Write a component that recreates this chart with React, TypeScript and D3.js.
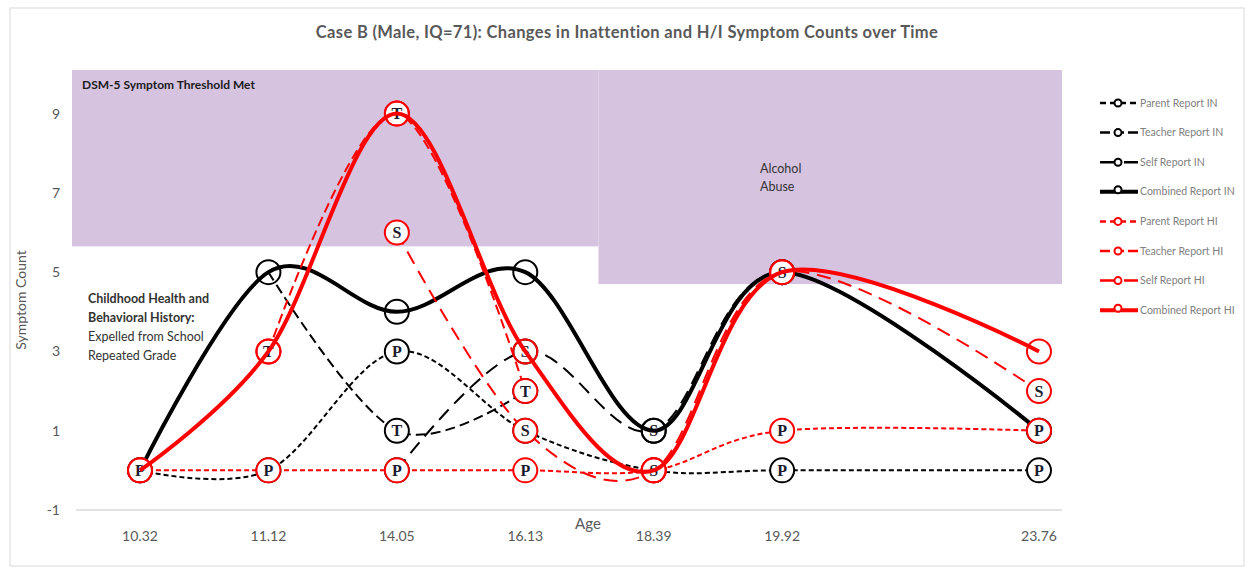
import React from "react";
import * as d3 from "d3";

const ageLabels = ["10.32", "11.12", "14.05", "16.13", "18.39", "19.92", "23.76"];
// axis slots: an empty slot sits between 19.92 and 23.76
const axisSlots = ["10.32", "11.12", "14.05", "16.13", "18.39", "19.92", "gap", "23.76"];
const yTicks = [-1, 1, 3, 5, 7, 9];

const parentIN = [0, 0, 3, 1, 0, 0, 0];
const teacherIN = [null, 5, 1, 2, null, null, null];
const selfIN = [null, null, 0, 3, 1, 5, 1];
const combinedIN = [0, 5, 4, 5, 1, 5, 1];
const parentHI = [0, 0, 0, 0, 0, 1, 1];
const teacherHI = [null, 3, 9, 2, null, null, null];
const selfHI = [null, null, 6, 1, 0, 5, 2];
const combinedHI = [0, 3, 9, 3, 0, 5, 3];

// markers not shown in the reference
const hiddenMarkers = ["Teacher Report IN|11.12"];

const childThreshold = 5.65;
const adultThreshold = 4.7;
const yMin = -1;
const yMax = 10.1;

type Series = {
  name: string;
  values: (number | null)[];
  color: string;
  dash: string;
  legendDash: string;
  width: number;
  letter: string;
};

const series: Series[] = [
  { name: "Parent Report IN", values: parentIN, color: "#000", dash: "5,3", legendDash: "6,4", width: 2, letter: "P" },
  { name: "Teacher Report IN", values: teacherIN, color: "#000", dash: "10,5", legendDash: "10,4", width: 2, letter: "T" },
  { name: "Self Report IN", values: selfIN, color: "#000", dash: "14,8", legendDash: "17,7", width: 2, letter: "S" },
  { name: "Combined Report IN", values: combinedIN, color: "#000", dash: "", legendDash: "", width: 4, letter: "" },
  { name: "Parent Report HI", values: parentHI, color: "#ff0000", dash: "5,3", legendDash: "6,4", width: 2, letter: "P" },
  { name: "Teacher Report HI", values: teacherHI, color: "#ff0000", dash: "10,5", legendDash: "10,4", width: 2, letter: "T" },
  { name: "Self Report HI", values: selfHI, color: "#ff0000", dash: "14,8", legendDash: "17,7", width: 2, letter: "S" },
  { name: "Combined Report HI", values: combinedHI, color: "#ff0000", dash: "", legendDash: "", width: 4, letter: "" },
];

const W = 1248;
const H = 569;
const FONT = "Lato, 'Open Sans', sans-serif";

export default function App() {
  const x = d3.scalePoint<string>().domain(axisSlots).range([140, 1039]);
  const y = d3.scaleLinear().domain([yMin, yMax]).range([510, 70]);

  const line = d3
    .line<[number, number | null]>()
    .defined((d) => d[1] !== null)
    .x((d) => d[0])
    .y((d) => y(d[1] as number))
    .curve(d3.curveCardinal.tension(0));

  const plotLeft = 72;
  const plotRight = 1062;
  const splitX = ((x("16.13") as number) + (x("18.39") as number)) / 2 + 9;

  const legendX = 1100;
  const legendY0 = 103;
  const legendStep = 29.6;

  return (
    <svg
      width={W}
      height={H}
      style={{ position: "absolute", left: 0, top: 0, display: "block", background: "#fff" }}
    >
      <rect x={10} y={8} width={1234} height={558} fill="#fff" stroke="#d9d9d9" strokeWidth={1} />
      <text
        x={627}
        y={38}
        textAnchor="middle"
        fontFamily={FONT}
        fontSize={16.5}
        letterSpacing={0.35}
        fontWeight={700}
        fill="#595959"
      >
        Case B (Male, IQ=71): Changes in Inattention and H/I Symptom Counts over Time
      </text>

      {/* threshold shading */}
      <rect x={plotLeft} y={y(yMax)} width={splitX - plotLeft} height={y(childThreshold) - y(yMax)} fill="#d6c3e0" />
      <rect x={splitX} y={y(yMax)} width={plotRight - splitX} height={y(adultThreshold) - y(yMax)} fill="#d6c3e0" />

      {/* axis line */}
      <line x1={plotLeft + 4} x2={plotRight} y1={y(-1)} y2={y(-1)} stroke="#d9d9d9" strokeWidth={1.5} />

      {yTicks.map((t) => (
        <text key={t} x={60} y={y(t) + 5} textAnchor="end" fontFamily={FONT} fontSize={14} fill="#595959">
          {t}
        </text>
      ))}
      {ageLabels.map((a) => (
        <text key={a} x={x(a)} y={541} textAnchor="middle" fontFamily={FONT} fontSize={14} fill="#595959">
          {a}
        </text>
      ))}
      <text x={588} y={529} textAnchor="middle" fontFamily={FONT} fontSize={15} fill="#595959">
        Age
      </text>
      <text
        transform={`translate(26,${300}) rotate(-90)`}
        textAnchor="middle"
        fontFamily={FONT}
        fontSize={14}
        fill="#595959"
      >
        Symptom Count
      </text>

      {/* annotations */}
      <text x={82} y={89} fontFamily={FONT} fontSize={12} fontWeight={700} fill="#1a1a1a">
        DSM-5 Symptom Threshold Met
      </text>
      <text fontFamily={FONT} fontSize={12.5} fill="#333">
        <tspan x={88} y={303} fontWeight={700}>Childhood Health and</tspan>
        <tspan x={88} y={322} fontWeight={700}>Behavioral History:</tspan>
        <tspan x={88} y={341}>Expelled from School</tspan>
        <tspan x={88} y={360}>Repeated Grade</tspan>
      </text>
      <text fontFamily={FONT} fontSize={12.5} fill="#333">
        <tspan x={760} y={173}>Alcohol</tspan>
        <tspan x={760} y={191}>Abuse</tspan>
      </text>

      {/* series */}
      {series.map((s) => {
        const pts: [number, number | null][] = s.values.map((v, i) => [x(ageLabels[i]) as number, v]);
        return (
          <g key={s.name}>
            <path
              d={line(pts) || ""}
              fill="none"
              stroke={s.color}
              strokeWidth={s.width}
              strokeDasharray={s.dash || undefined}
            />
            {pts.map((p, i) =>
              p[1] === null || hiddenMarkers.includes(`${s.name}|${ageLabels[i]}`) ? null : (
                <g key={i} transform={`translate(${p[0]},${y(p[1] as number)})`}>
                  <circle r={12} fill={s.letter ? "#fff" : "none"} stroke={s.color} strokeWidth={2} />
                  {s.letter && (
                    <text
                      y={5.5}
                      textAnchor="middle"
                      fontFamily="'Liberation Serif', 'DejaVu Serif', serif"
                      fontWeight={700}
                      fontSize={16}
                      fill="#1a1a2e"
                    >
                      {s.letter}
                    </text>
                  )}
                </g>
              )
            )}
          </g>
        );
      })}

      {/* legend */}
      {series.map((s, i) => {
        const ly = legendY0 + i * legendStep;
        return (
          <g key={s.name}>
            <line
              x1={legendX}
              x2={legendX + 38}
              y1={ly}
              y2={ly}
              stroke={s.color}
              strokeWidth={s.width === 4 ? 4 : 2.5}
              strokeDasharray={s.legendDash || undefined}
            />
            <circle cx={legendX + 18} cy={ly - (s.width === 4 ? 2 : 0)} r={3.5} fill="#fff" stroke={s.color} strokeWidth={2} />
            <text x={legendX + 40} y={ly + 3.5} fontFamily={FONT} fontSize={10.5} fill="#7f7f7f">
              {s.name}
            </text>
          </g>
        );
      })}
    </svg>
  );
}
